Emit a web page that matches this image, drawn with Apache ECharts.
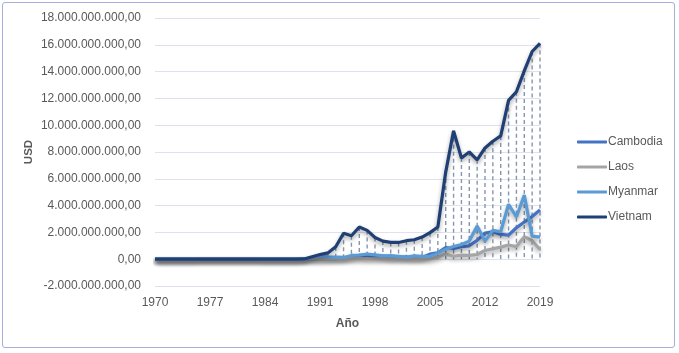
<!DOCTYPE html>
<html><head><meta charset="utf-8">
<script src="https://cdn.jsdelivr.net/npm/echarts@6/dist/echarts.min.js"></script>
<style>
html,body{margin:0;padding:0;background:#fff;}
#wrap{position:absolute;left:2px;top:2px;width:673px;height:346px;border:1.5px solid #a4afdc;border-radius:3px;box-sizing:border-box;}
#chart{position:absolute;left:0;top:0;width:679px;height:353px;}
</style></head>
<body>
<div id="wrap"></div>
<div id="chart"></div>
<script>
const years = [];
for (let y = 1970; y <= 2019; y++) years.push(String(y));
// values in billions of USD
const cambodia = [0,0,0,0,0,0,0,0,0,0, 0,0,0,0,0,0,0,0,0,0, 0,0,0.03,0.05,0.07,0.15,0.29,0.17,0.24,0.23, 0.12,0.15,0.15,0.08,0.13,0.38,0.48,0.87,0.8,0.93, 1.0,1.4,1.95,2.05,1.85,1.8,2.35,2.78,3.18,3.68];
const laos = [0,-0.05,-0.05,-0.05,-0.05,-0.05,0,0,0,0, 0,0,0,0,-0.04,-0.04,-0.04,-0.04,-0.04,0, 0,0,0,0.02,0.03,0.04,0.05,0.04,0.03,0.02, 0.02,0.02,0.02,0.02,0.02,0.03,0.15,0.38,0.22,0.3, 0.28,0.35,0.65,0.78,0.9,1.06,0.94,1.68,1.38,0.72];
const myanmar = [0,0,0,0,0,0,0,0,0,0, 0,0,0,0,0,0,0,0,0,0, 0.16,0.24,0.17,0.15,0.13,0.28,0.31,0.39,0.32,0.25, 0.26,0.21,0.15,0.25,0.21,0.23,0.45,0.75,0.95,1.1, 1.35,2.48,1.35,2.15,2.05,4.1,3.15,4.78,1.72,1.65];
const vietnam = [0,0,0,0,0,0,0,0,0,0, 0,0,0,0,0,0,0,0,0,0.02, 0.18,0.35,0.47,0.93,1.94,1.75,2.4,2.15,1.62,1.35, 1.25,1.25,1.38,1.45,1.65,1.98,2.4,6.5,9.58,7.55, 8.0,7.42,8.3,8.8,9.2,11.85,12.5,14.05,15.5,16.1];
const seriesNames = ['Cambodia','Laos','Myanmar','Vietnam'];
const seriesColors = ['#4472c4','#a5a5a5','#5b9bd5','#203f74'];
const yTickMin = -2, yTickMax = 18, yTickStep = 2;

const B = 1e9;
const toUSD = arr => arr.map(v => v * B);
const fmt = v => {
  const neg = v < 0; let n = Math.round(Math.abs(v));
  const s = String(n).replace(/\B(?=(\d{3})+(?!\d))/g, '.');
  return (neg ? '-' : '') + s + ',00';
};
const font = '"Liberation Sans", Arial, sans-serif';
const txt = '#595959';
const allData = [cambodia, laos, myanmar, vietnam];

const chart = echarts.init(document.getElementById('chart'));
const lineSeries = seriesNames.map((n, i) => ({
  name: n, type: 'line', data: toUSD(allData[i]), symbol: 'none', z: 5 + i,
  lineStyle: {width: 3.2, color: seriesColors[i], shadowColor: 'rgba(0,0,0,0.35)', shadowBlur: 4, shadowOffsetY: 2.5},
  itemStyle: {color: seriesColors[i]}, animation: false
}));
const dropSeries = {
  type: 'custom', name: 'drop', z: 2, silent: true, animation: false,
  data: vietnam.map((v, i) => [i, v * B]),
  renderItem: (params, api) => {
    const top = api.coord([api.value(0), api.value(1)]);
    const bot = api.coord([api.value(0), 0]);
    return {type: 'line', shape: {x1: top[0], y1: top[1], x2: bot[0], y2: bot[1]},
      style: {stroke: '#8497b0', lineWidth: 1.4, lineDash: [4, 3]}};
  }
};
chart.setOption({
  animation: false,
  textStyle: {fontFamily: font},
  grid: {left: 155, right: 139, top: 18, bottom: 67, containLabel: false},
  legend: {
    orient: 'vertical', left: 572, top: 131, itemGap: 13, itemWidth: 30, itemHeight: 3,
    icon: 'roundRect', data: seriesNames,
    textStyle: {color: txt, fontSize: 12, fontFamily: font, padding: [0,0,0,-4]}
  },
  xAxis: {
    type: 'category', data: years, boundaryGap: false,
    name: 'Año', nameLocation: 'middle', nameGap: 32,
    nameTextStyle: {color: txt, fontSize: 12, fontWeight: 'bold', fontFamily: font},
    axisLine: {show: false}, axisTick: {show: false},
    axisLabel: {interval: 6, color: txt, fontSize: 12, margin: 11, fontFamily: font}
  },
  yAxis: {
    type: 'value', min: yTickMin * B, max: yTickMax * B, interval: yTickStep * B,
    name: 'USD', nameLocation: 'middle', nameGap: 120, nameRotate: 90, nameMoveOverlap: false,
    nameTextStyle: {color: txt, fontSize: 11.5, fontWeight: 'bold', fontFamily: font},
    axisLine: {show: false}, axisTick: {show: false},
    axisLabel: {formatter: fmt, color: txt, fontSize: 12, margin: 14, fontFamily: font},
    splitLine: {lineStyle: {color: '#dde2ec', width: 1}}
  },
  series: [dropSeries, ...lineSeries]
});
</script>
</body></html>
